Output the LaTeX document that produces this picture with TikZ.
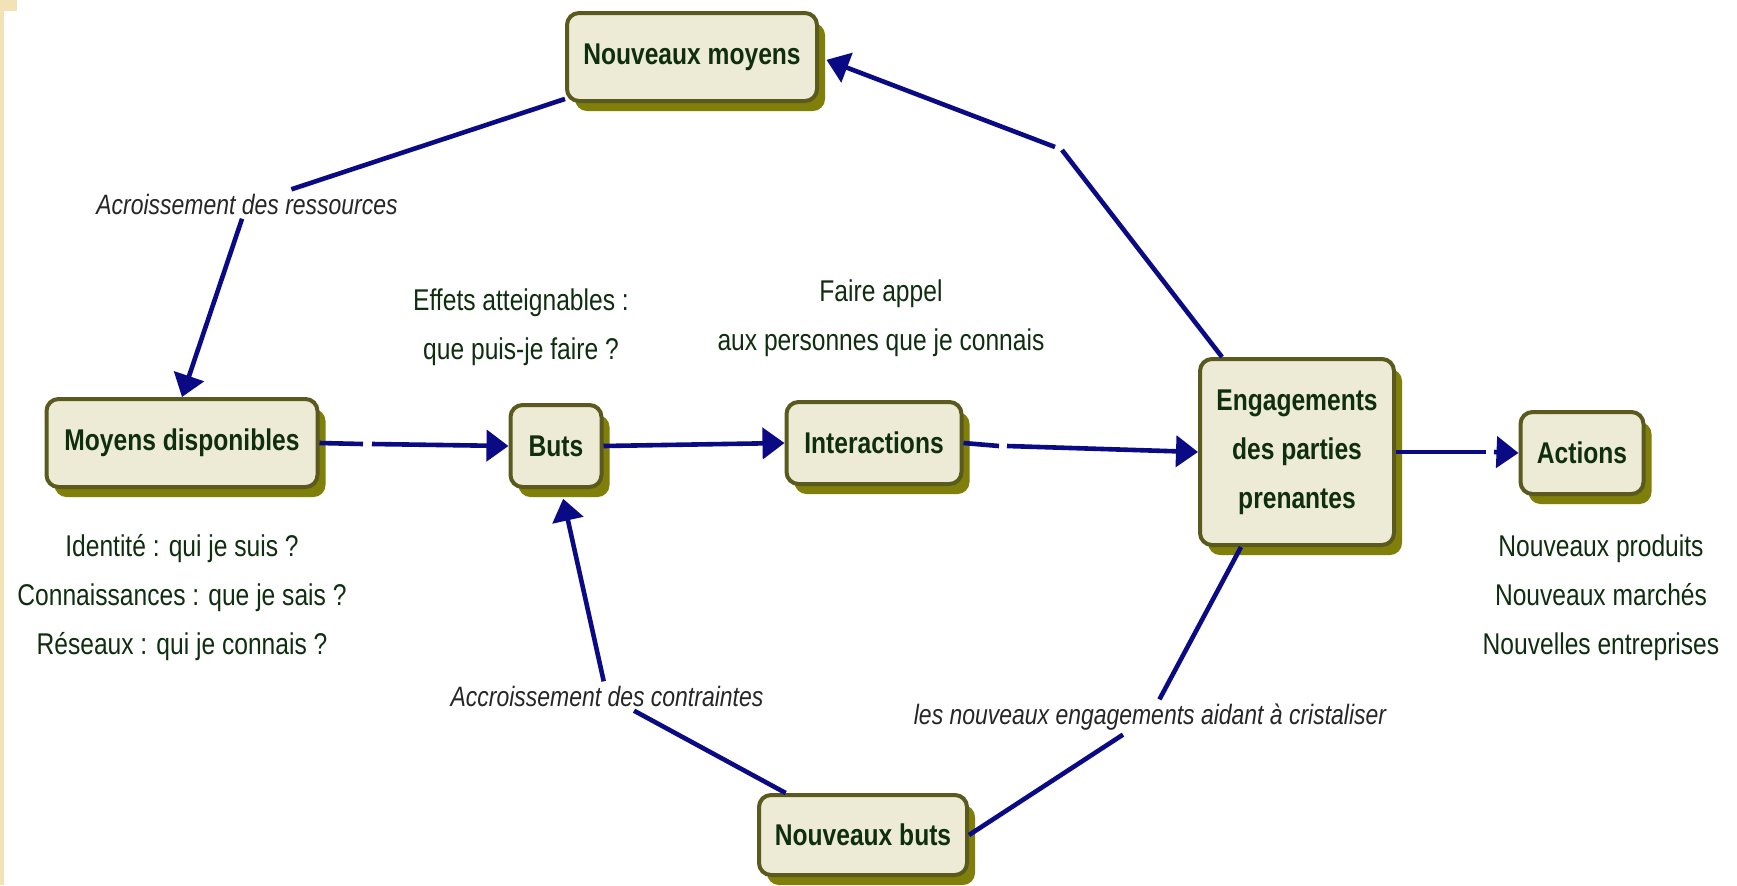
\documentclass[tikz,border=0pt]{standalone}
\usepackage{fontspec}
\setmainfont{Liberation Sans}[FakeStretch=0.82]
\usetikzlibrary{arrows.meta,shadows,calc}
\definecolor{boxfill}{HTML}{EDEBD6}
\definecolor{boxline}{HTML}{5A5A1E}
\definecolor{shadowcol}{HTML}{7F7F0A}
\definecolor{txtgreen}{HTML}{0F2E0F}
\definecolor{navyline}{HTML}{0A0A85}
\definecolor{slidebg}{HTML}{F3E2B5}
\begin{document}
\begin{tikzpicture}[x=0.5pt,y=-0.5pt,
  box/.style={draw=boxline, line width=2pt, fill=boxfill, rounded corners=6pt,
    font=\fontsize{15}{24.5}\selectfont\bfseries, text=txtgreen, align=center, inner sep=0pt,
    drop shadow={shadow xshift=4pt, shadow yshift=-5pt, fill=shadowcol, opacity=1}},
  plain/.style={font=\fontsize{15}{24.5}\selectfont, text=txtgreen, align=center, inner sep=0pt},
  lab/.style={font=\fontsize{14}{17}\selectfont\itshape, text=black!85, inner sep=2pt},
  conn/.style={draw=navyline, line width=2.3pt},
  arr/.style={conn, -{Triangle[length=11pt,width=15.5pt]}},
]
\useasboundingbox (0,0) rectangle (1737,885);
\fill[white] (0,0) rectangle (1737,885);
\fill[slidebg] (0,0) rectangle (4,885);
\fill[slidebg] (0,0) rectangle (17,11);

% boxes
\node[box, minimum width=125pt, minimum height=44pt] (nm) at (692,57) {Nouveaux moyens};
\node[box, minimum width=135.5pt, minimum height=44pt] (md) at (182,443) {Moyens disponibles};
\node[box, minimum width=45.5pt, minimum height=41pt] (buts) at (556,446) {Buts};
\node[box, minimum width=87.5pt, minimum height=41pt] (inter) at (874,443) {Interactions};
\node[box, minimum width=97pt, minimum height=93pt] (eng) at (1297,452) {Engagements\\des parties\\prenantes};
\node[box, minimum width=61.5pt, minimum height=41pt] (act) at (1582,453) {Actions};
\node[box, minimum width=104pt, minimum height=40pt] (nb) at (863,835) {Nouveaux buts};

% plain texts
\node[plain] (t1) at (182,598) {Identité : qui je suis ?\\Connaissances : que je sais ?\\Réseaux : qui je connais ?};
\node[plain] (t2) at (1601,598) {Nouveaux produits\\Nouveaux marchés\\Nouvelles entreprises};
\node[plain] (t3) at (521,327) {Effets atteignables :\\ que puis-je faire ?};
\node[plain] (t4) at (881,318) {Faire appel\\aux personnes que je connais};

% connector labels
\node[lab] (l1) at (247,204) {Acroissement des ressources};
\node[lab] (l2) at (607,696) {Accroissement des contraintes};
\node[lab] (l3) at (1150,717) {les nouveaux engagements aidant à cristaliser};

% small breaks in the connectors
\coordinate (g1a) at (363,444);
\coordinate (g1b) at (372,444);
\coordinate (g2a) at (999,446);
\coordinate (g2b) at (1007,446);
\coordinate (g3a) at (1486,452);
\coordinate (g3b) at (1494,452);
\coordinate (benda) at (1062,150);
\coordinate (bendb) at (1055,147);

% connectors
\draw[conn] (nm) -- (l1);
\draw[arr] (l1) -- (md.north);
\draw[conn] (md.east) -- (g1a);
\draw[arr] (g1b) -- (buts.west);
\draw[arr] (buts.east) -- (inter.west);
\draw[conn] (inter.east) -- (g2a);
\draw[arr] (g2b) -- (eng.west);
\draw[conn] (eng.east) -- (g3a);
\draw[arr] (g3b) -- (act.west);
\draw[conn] ($(eng.north)+(-75,0)$) -- (benda);
\draw[arr, shorten >=4pt] (bendb) -- (nm.east);
\draw[conn] (nb.east) -- (l3);
\draw[conn] (l3) -- ($(eng.south)+(-56,0)$);
\draw[conn] (nb) -- (l2);
\draw[arr, shorten >=5pt] (l2) -- ($(buts.south)+(5,0)$);
\end{tikzpicture}
\end{document}
